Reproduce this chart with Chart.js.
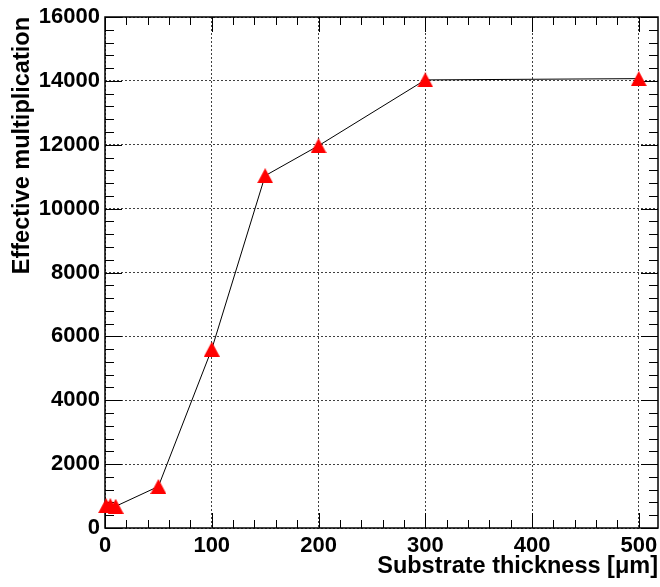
<!DOCTYPE html>
<html>
<head>
<meta charset="utf-8">
<title>Effective multiplication vs substrate thickness</title>
<script src="https://cdn.jsdelivr.net/npm/chart.js@4/dist/chart.umd.min.js"></script>
<style>
  html, body { margin: 0; padding: 0; background: #fff; }
  #wrap { width: 660px; height: 587px; }
</style>
</head>
<body>
<div id="wrap"><canvas id="multChart" width="660" height="587"></canvas></div>
<script>
// substrate thickness [um] and measured effective multiplication
const thickness = [1, 5, 10, 50, 100, 150, 200, 300, 500];
const multiplication = [700, 700, 680, 1300, 5600, 11030, 11970, 14030, 14070];

// labelled (major) tick values on each axis
const xTickValues = [0, 100, 200, 300, 400, 500];
const yTickValues = [0, 2000, 4000, 6000, 8000, 10000, 12000, 14000, 16000];

const FONT = '"Liberation Sans", Arial, Helvetica, sans-serif';

// red filled triangle marker, centred on the point
function triangleMarker(w, h) {
  const c = document.createElement('canvas');
  c.width = w;
  c.height = h;
  const g = c.getContext('2d');
  g.fillStyle = '#ff0000';
  g.beginPath();
  g.moveTo(w / 2, 0);
  g.lineTo(w, h);
  g.lineTo(0, h);
  g.closePath();
  g.fill();
  return c;
}

// frame with inward ticks on all four sides
const frameTicks = {
  id: 'frameTicks',
  beforeDatasetsDraw(chart) {
    const { ctx, chartArea: a, scales } = chart;
    const xs = scales.x, ys = scales.y;
    ctx.save();
    ctx.strokeStyle = '#000';
    ctx.lineWidth = 1;
    ctx.beginPath();
    // x ticks every 20, major every 100
    for (let v = 0; v <= xs.max; v += 20) {
      const px = Math.round(xs.getPixelForValue(v)) + 0.5;
      const len = v % 100 === 0 ? 15 : 8;
      ctx.moveTo(px, a.bottom);
      ctx.lineTo(px, a.bottom - len);
      ctx.moveTo(px, a.top);
      ctx.lineTo(px, a.top + len);
    }
    // y ticks every 400, major every 2000
    for (let v = 0; v <= ys.max; v += 400) {
      const py = Math.round(ys.getPixelForValue(v)) + 0.5;
      const len = v % 2000 === 0 ? 17 : 9;
      ctx.moveTo(a.left, py);
      ctx.lineTo(a.left + len, py);
      ctx.moveTo(a.right, py);
      ctx.lineTo(a.right - len, py);
    }
    ctx.stroke();
    ctx.lineWidth = 1.5;
    ctx.strokeRect(a.left, a.top, a.right - a.left, a.bottom - a.top);
    ctx.restore();
  }
};

new Chart(document.getElementById('multChart'), {
  type: 'scatter',
  data: {
    datasets: [{
      data: thickness.map((t, i) => ({ x: t, y: multiplication[i] })),
      showLine: true,
      borderColor: '#000',
      borderWidth: 1,
      pointStyle: triangleMarker(16, 15),
      pointRadius: 8,
      pointHoverRadius: 8,
      clip: false,
    }],
  },
  options: {
    responsive: false,
    animation: false,
    events: [],
    layout: { autoPadding: false, padding: { top: 17, right: 2, left: 0, bottom: 0 } },
    plugins: {
      legend: { display: false },
      tooltip: { enabled: false },
    },
    scales: {
      x: {
        type: 'linear',
        min: 0,
        max: 518,
        afterBuildTicks: (s) => { s.ticks = xTickValues.map((v) => ({ value: v })); },
        afterFit: (s) => { s.height = 59; s.paddingLeft = 0; s.paddingRight = 0; },
        grid: { color: 'rgba(0,0,0,0.75)', lineWidth: 1, drawTicks: false },
        border: { display: false, dash: [2, 2] },
        ticks: {
          padding: 5,
          color: '#000',
          maxRotation: 0,
          callback: (v) => String(v),
          font: { family: FONT, size: 22, weight: 'bold' },
        },
        title: {
          display: true,
          text: 'Substrate thickness [μm]',
          align: 'end',
          color: '#000',
          padding: { top: 0, bottom: 6 },
          font: { family: FONT, size: 23.5, weight: 'bold' },
        },
      },
      y: {
        type: 'linear',
        min: 0,
        max: 16000,
        afterBuildTicks: (s) => { s.ticks = yTickValues.map((v) => ({ value: v })); },
        afterFit: (s) => { s.width = 105; s.paddingTop = 0; s.paddingBottom = 0; },
        grid: { color: 'rgba(0,0,0,0.75)', lineWidth: 1, drawTicks: false },
        border: { display: false, dash: [2, 2] },
        ticks: {
          padding: 5,
          color: '#000',
          callback: (v) => String(v),
          font: { family: FONT, size: 22, weight: 'bold' },
        },
        title: {
          display: true,
          text: 'Effective multiplication',
          align: 'end',
          color: '#000',
          padding: { top: 8, bottom: 0 },
          font: { family: FONT, size: 23.5, weight: 'bold' },
        },
      },
    },
  },
  plugins: [frameTicks],
});
</script>
</body>
</html>
